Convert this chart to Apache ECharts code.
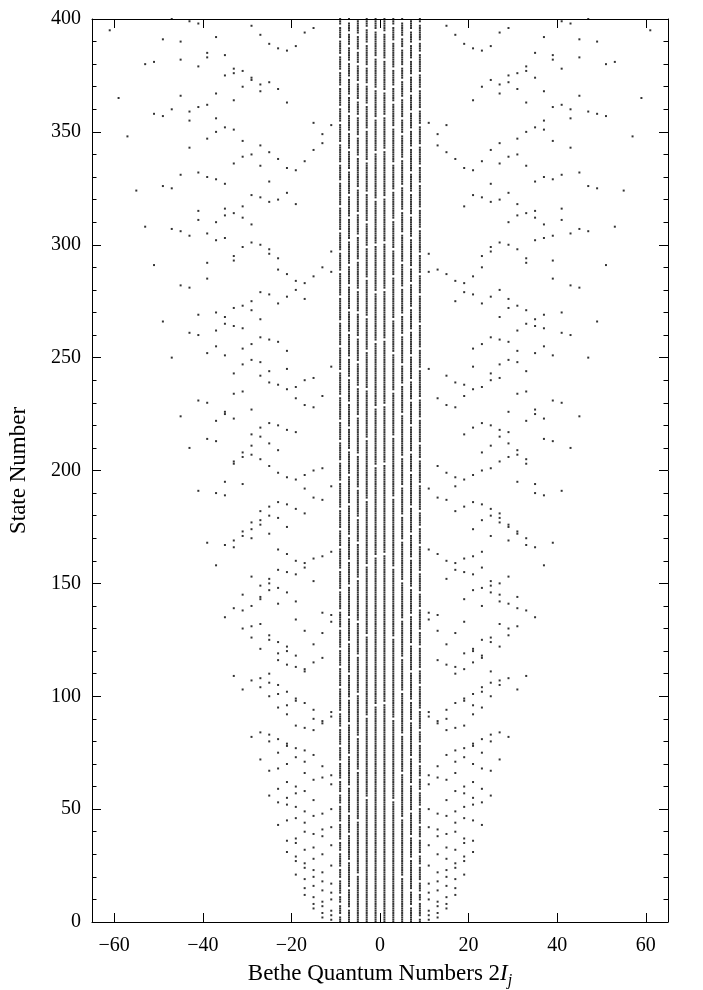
<!DOCTYPE html>
<html><head><meta charset="utf-8">
<script src="https://cdn.jsdelivr.net/npm/echarts@6/dist/echarts.min.js"></script>
<style>html,body{margin:0;padding:0;background:#fff}#c{width:703px;height:990px}</style>
</head><body><div id="c"></div>
<script>
const xTicks = [-60, -40, -20, 0, 20, 40, 60];
const stateRange = [0, 400];
const centerColumns = [-9, -7, -5, -3, -1, 1, 3, 5, 7, 9];
// states where a central column has no point
const centerGaps = {
  "-9": [3, 8, 12, 19, 24, 31, 36, 44, 52, 57, 63, 71, 78, 86, 93, 104, 113, 121, 130, 138, 147, 156, 166, 174, 183, 195, 204, 213, 222, 233, 244, 255, 266, 277, 288, 297, 306, 317, 328, 336, 345, 354, 361, 370, 377, 384, 391, 397],
  "-7": [6, 15, 27, 39, 48, 60, 74, 88, 99, 110, 124, 135, 149, 160, 171, 185, 198, 209, 219, 230, 241, 250, 261, 271, 282, 291, 302, 312, 322, 333, 342, 350, 358, 366, 374, 381, 388, 394, 399],
  "-5": [21, 45, 67, 82, 101, 118, 133, 152, 168, 179, 192, 207, 224, 237, 248, 259, 270, 280, 293, 304, 314, 325, 339, 348, 357, 364, 372, 380, 386, 393, 400],
  "-3": [55, 91, 127, 158, 187, 214, 236, 253, 268, 285, 299, 310, 323, 337, 351, 362, 371, 379, 389, 396],
  "-1": [96, 162, 202, 228, 257, 279, 300, 320, 341, 356, 369, 383, 395],
  "1": [97, 163, 203, 229, 258, 280, 301, 321, 342, 357, 368, 382, 394],
  "3": [54, 90, 126, 157, 188, 215, 235, 252, 267, 286, 298, 311, 324, 336, 352, 363, 370, 378, 390, 397],
  "5": [20, 46, 66, 83, 102, 117, 134, 151, 169, 180, 193, 206, 225, 238, 247, 260, 269, 281, 292, 305, 315, 326, 338, 349, 356, 365, 373, 379, 387, 392, 399],
  "7": [7, 14, 28, 38, 49, 61, 73, 89, 98, 111, 123, 136, 148, 161, 172, 184, 199, 208, 220, 231, 240, 251, 262, 272, 283, 290, 303, 313, 323, 332, 343, 351, 359, 367, 375, 382, 389, 395, 400],
  "9": [2, 9, 13, 18, 25, 30, 37, 43, 51, 58, 64, 70, 79, 85, 94, 105, 112, 122, 129, 139, 146, 155, 167, 175, 182, 194, 205, 212, 223, 232, 245, 254, 265, 278, 287, 296, 307, 316, 327, 335, 344, 353, 360, 369, 376, 385, 390, 398]
};
// outer quantum numbers, [2I_j, state]
const leftOuterTop = [[-47,400],[-43,399],[-41,398],[-61,395],[-29,397],[-27,393],[-15,396],[-17,394],[-49,391],[-45,390],[-37,392],[-25,389],[-23,387],[-21,386],[-19,388],[-39,385],[-39,383],[-35,384],[-45,382],[-53,380],[-51,381],[-41,379],[-33,378],[-33,376],[-31,377],[-35,375],[-29,374],[-29,373],[-27,371],[-25,372],[-23,369],[-27,368],[-31,370],[-37,367],[-45,366],[-59,365],[-33,364],[-21,363],[-39,362],[-41,361],[-47,360],[-51,358],[-49,357],[-43,359],[-43,355],[-37,356],[-15,354],[-11,353],[-13,349],[-13,345],[-15,342],[-17,337],[-35,352],[-33,351],[-37,350],[-39,347],[-57,348],[-31,346],[-27,344],[-25,341],[-23,338],[-21,334],[-19,333],[-29,340],[-31,339],[-33,336],[-27,335],[-43,343],[-45,331],[-41,332],[-39,330],[-37,329],[-35,327],[-55,324],[-49,326],[-47,325],[-25,328],[-29,322],[-27,321],[-25,319],[-23,320],[-21,323],[-19,318],[-41,315],[-41,311],[-35,316],[-35,313],[-33,314],[-31,317],[-31,312],[-37,310],[-29,309],[-53,308],[-47,307],[-45,306],[-43,304],[-39,305],[-37,302],[-35,303],[-29,301],[-27,300]];
const leftOuterUpper = [[-31,299],[-25,298],[-25,296],[-23,294],[-33,295],[-33,293],[-39,292],[-51,291],[-11,297],[-13,290],[-11,288],[-23,289],[-21,287],[-19,284],[-17,283],[-15,286],[-39,285],[-45,282],[-43,281],[-19,280],[-17,276],[-21,277],[-23,274],[-27,279],[-25,278],[-29,275],[-31,273],[-33,272],[-29,271],[-27,267],[-37,270],[-41,269],[-35,268],[-35,265],[-33,264],[-31,263],[-49,266],[-37,262],[-43,261],[-41,260],[-27,259],[-25,258],[-23,257],[-21,253],[-29,256],[-31,254],[-37,255],[-39,252],[-35,251],[-47,250],[-29,249],[-27,248],[-31,247],[-11,246],[-21,245],[-25,244],[-33,243],[-27,242],[-25,239],[-23,238],[-21,236],[-19,237],[-17,240],[-15,241],[-33,234],[-31,235],[-13,233],[-19,232],[-17,229],[-15,228],[-41,231],[-39,230],[-29,227],[-35,226],[-35,225],[-45,224],[-33,223],[-37,222],[-25,221],[-23,220],[-27,219],[-21,218],[-19,217],[-29,216],[-27,215],[-39,214],[-37,213],[-25,212],[-29,211],[-43,210],[-23,209],[-31,208],[-29,207],[-31,206],[-27,205],[-33,204],[-33,203],[-25,202],[-13,201]];
const leftOuterLower = [[-23,199],[-21,197],[-19,196],[-17,198],[-15,200],[-35,195],[-31,194],[-41,191],[-37,190],[-35,189],[-17,192],[-11,193],[-15,188],[-13,187],[-23,186],[-21,185],[-19,183],[-17,181],[-25,184],[-27,182],[-25,180],[-23,179],[-21,175],[-29,177],[-27,178],[-27,176],[-29,174],[-31,173],[-31,171],[-29,170],[-25,172],[-33,169],[-33,166],[-35,167],[-39,168],[-37,158],[-23,165],[-21,163],[-19,160],[-17,159],[-17,157],[-15,161],[-13,162],[-11,164],[-23,156],[-21,155],[-19,154],[-15,151],[-29,153],[-25,152],[-25,150],[-27,149],[-25,147],[-23,148],[-21,146],[-31,145],[-27,144],[-27,143],[-23,141],[-19,142],[-33,139],[-31,138],[-29,140],[-35,135],[-13,137],[-11,136],[-11,133],[-19,134],[-27,132],[-29,131],[-31,130],[-17,129],[-13,128],[-29,126],[-25,127],[-25,125],[-23,124],[-21,122],[-27,121],[-21,120],[-23,119],[-15,123],[-19,118],[-23,116],[-21,114],[-19,113],[-17,112],[-17,111],[-15,115],[-13,117],[-33,109],[-25,110],[-27,108],[-29,107],[-25,106],[-27,104],[-23,105],[-31,103],[-23,101],[-21,102]];
const leftOuterBottom = [[-25,100],[-19,99],[-19,98],[-17,97],[-23,95],[-21,96],[-21,92],[-15,94],[-11,93],[-11,91],[-15,90],[-13,89],[-13,88],[-19,87],[-17,86],[-15,85],[-29,82],[-27,84],[-25,83],[-25,80],[-23,81],[-21,79],[-21,78],[-19,77],[-17,76],[-15,74],[-23,75],[-19,73],[-17,71],[-27,72],[-21,70],[-13,69],[-25,67],[-23,68],[-17,66],[-11,65],[-13,64],[-15,63],[-11,61],[-21,62],[-19,60],[-23,59],[-17,58],[-19,57],[-25,56],[-21,55],[-15,54],[-23,53],[-21,52],[-19,51],[-11,50],[-17,49],[-13,48],[-15,47],[-19,46],[-21,45],[-17,44],[-23,43],[-11,42],[-13,41],[-17,40],[-15,39],[-13,38],[-19,37],[-21,36],[-19,35],[-11,34],[-17,32],[-15,33],[-21,31],[-13,30],[-19,29],[-15,28],[-19,27],[-17,26],[-11,25],[-17,24],[-15,23],[-13,22],[-19,21],[-15,20],[-17,19],[-13,18],[-11,17],[-15,16],[-17,15],[-13,14],[-11,13],[-17,12],[-15,11],[-11,10],[-13,9],[-15,8],[-13,7],[-15,6],[-11,5],[-13,4],[-11,3],[-13,2],[-11,1]];
const rightOuterTop = [[47,400],[41,399],[43,398],[15,397],[29,396],[61,395],[27,394],[17,393],[37,392],[45,391],[49,390],[19,389],[25,388],[21,387],[23,386],[35,385],[39,384],[45,383],[39,382],[53,381],[51,380],[33,379],[41,378],[33,377],[31,376],[29,375],[35,374],[25,373],[29,372],[27,371],[23,370],[31,369],[37,368],[27,367],[45,366],[59,365],[21,364],[33,363],[41,362],[39,361],[43,360],[47,359],[49,358],[51,357],[43,356],[37,355],[11,354],[15,353],[35,352],[37,351],[33,350],[13,349],[57,348],[31,347],[39,346],[27,345],[13,344],[43,343],[25,342],[15,341],[31,340],[29,339],[17,338],[23,337],[27,336],[33,335],[19,334],[21,333],[45,332],[41,331],[37,330],[39,329],[35,328],[25,327],[47,326],[49,325],[55,324],[29,323],[21,322],[23,321],[27,320],[25,319],[31,318],[19,317],[41,316],[35,315],[33,314],[31,313],[35,312],[41,311],[29,310],[37,309],[53,308],[45,307],[47,306],[43,305],[39,304],[37,303],[35,302],[27,301],[29,300]];
const rightOuterUpper = [[25,299],[31,298],[25,297],[11,296],[23,295],[33,294],[39,293],[33,292],[51,291],[23,290],[13,289],[11,288],[15,287],[21,286],[39,285],[17,284],[19,283],[43,282],[45,281],[27,280],[19,279],[21,278],[25,277],[29,276],[17,275],[23,274],[31,273],[29,272],[33,271],[41,270],[37,269],[27,268],[35,267],[49,266],[33,265],[35,264],[37,263],[31,262],[41,261],[43,260],[25,259],[27,258],[29,257],[23,256],[37,255],[21,254],[31,253],[35,252],[39,251],[47,250],[29,249],[31,248],[27,247],[21,246],[11,245],[33,244],[25,243],[15,242],[27,241],[25,240],[17,239],[19,238],[23,237],[21,236],[33,235],[31,234],[19,233],[13,232],[39,231],[41,230],[15,229],[17,228],[35,227],[29,226],[35,225],[45,224],[37,223],[33,222],[23,221],[25,220],[21,219],[27,218],[29,217],[19,216],[27,215],[37,214],[39,213],[29,212],[25,211],[43,210],[31,209],[23,208],[31,207],[29,206],[33,205],[27,204],[33,203],[13,202],[25,201]];
const rightOuterLower = [[23,200],[15,199],[21,198],[17,197],[19,196],[31,195],[35,194],[17,193],[11,192],[41,191],[35,190],[37,189],[13,188],[15,187],[21,186],[23,185],[19,184],[25,183],[17,182],[27,181],[25,180],[27,179],[23,178],[27,177],[29,176],[29,175],[21,174],[31,173],[31,172],[25,171],[33,170],[29,169],[39,168],[33,167],[35,166],[11,165],[23,164],[13,163],[21,162],[19,161],[15,160],[17,159],[37,158],[23,157],[17,156],[19,155],[21,154],[29,153],[15,152],[25,151],[27,150],[25,149],[23,148],[21,147],[25,146],[27,145],[31,144],[19,143],[27,142],[29,141],[23,140],[31,139],[33,138],[11,137],[13,136],[35,135],[11,134],[19,133],[27,132],[31,131],[29,130],[13,129],[17,128],[29,127],[25,126],[23,125],[25,124],[15,123],[27,122],[21,121],[21,120],[19,119],[23,118],[23,117],[13,116],[21,115],[15,114],[17,113],[19,112],[25,111],[17,110],[33,109],[29,108],[27,107],[25,106],[27,105],[23,104],[31,103],[23,102],[21,101]];
const rightOuterBottom = [[25,100],[19,99],[19,98],[17,97],[21,96],[23,95],[15,94],[11,93],[21,92],[11,91],[15,90],[13,89],[13,88],[19,87],[17,86],[15,85],[27,84],[25,83],[29,82],[23,81],[25,80],[21,79],[21,78],[19,77],[17,76],[23,75],[15,74],[19,73],[27,72],[17,71],[21,70],[13,69],[23,68],[25,67],[17,66],[11,65],[13,64],[15,63],[21,62],[11,61],[19,60],[23,59],[17,58],[19,57],[25,56],[21,55],[15,54],[23,53],[21,52],[19,51],[11,50],[17,49],[13,48],[15,47],[19,46],[21,45],[17,44],[23,43],[11,42],[13,41],[17,40],[15,39],[13,38],[19,37],[21,36],[19,35],[11,34],[15,33],[17,32],[21,31],[13,30],[19,29],[15,28],[19,27],[17,26],[11,25],[17,24],[15,23],[13,22],[19,21],[15,20],[17,19],[13,18],[11,17],[15,16],[17,15],[13,14],[11,13],[17,12],[15,11],[11,10],[13,9],[15,8],[13,7],[15,6],[11,5],[13,4],[11,3],[13,2],[11,1]];

const points = [];
centerColumns.forEach(function (c) {
  const gaps = new Set(centerGaps[String(c)]);
  for (let s = stateRange[0]; s <= stateRange[1]; s++) {
    if (!gaps.has(s)) points.push([c, s]);
  }
});
[leftOuterTop, leftOuterUpper, leftOuterLower, leftOuterBottom,
 rightOuterTop, rightOuterUpper, rightOuterLower, rightOuterBottom].forEach(function (a) {
  a.forEach(function (p) { points.push(p); });
});

const FONT = 'Liberation Serif';
const fmt = function (v) { return String(v).replace('-', '\u2212'); };
const lineStyle = { color: '#000', width: 1 };
const chart = echarts.init(document.getElementById('c'), null, { renderer: 'canvas' });
chart.setOption({
  animation: false,
  backgroundColor: '#fff',
  grid: { left: 92, right: 35, top: 19, bottom: 68, containLabel: false, outerBoundsMode: 'none' },
  xAxis: [{
    type: 'value', min: -65, max: 65, position: 'bottom',
    axisLine: { show: true, onZero: false, lineStyle: lineStyle },
    axisTick: { show: true, inside: true, length: 9, customValues: xTicks, lineStyle: lineStyle },
    axisLabel: { customValues: xTicks, formatter: fmt, color: '#000', fontFamily: FONT, fontSize: 20, margin: 14 },
    splitLine: { show: false },
    name: '{t|Bethe Quantum Numbers 2}{i|I}{s|j}',
    nameLocation: 'middle', nameGap: 37,
    nameTextStyle: {
      color: '#000',
      rich: {
        t: { fontFamily: FONT, fontSize: 23, color: '#000', lineHeight: 30, verticalAlign: 'middle' },
        i: { fontFamily: FONT, fontSize: 23, fontStyle: 'italic', color: '#000', lineHeight: 30, verticalAlign: 'middle' },
        s: { fontFamily: FONT, fontSize: 16, fontStyle: 'italic', color: '#000', lineHeight: 16, verticalAlign: 'bottom' }
      }
    }
  }, {
    type: 'value', min: -65, max: 65, position: 'top',
    axisLine: { show: true, onZero: false, lineStyle: lineStyle },
    axisTick: { show: true, inside: true, length: 9, customValues: xTicks, lineStyle: lineStyle },
    axisLabel: { show: false },
    splitLine: { show: false }
  }],
  yAxis: [{
    type: 'value', min: 0, max: 400, interval: 50, position: 'left',
    axisLine: { show: true, onZero: false, lineStyle: lineStyle },
    axisTick: { show: true, inside: true, length: 9, lineStyle: lineStyle },
    minorTick: { show: true, splitNumber: 5, length: 4.5, lineStyle: lineStyle },
    axisLabel: { color: '#000', fontFamily: FONT, fontSize: 20, margin: 11 },
    splitLine: { show: false },
    name: 'State Number', nameLocation: 'middle', nameGap: 62,
    nameTextStyle: { color: '#000', fontFamily: FONT, fontSize: 23 }
  }, {
    type: 'value', min: 0, max: 400, interval: 50, position: 'right',
    axisLine: { show: true, onZero: false, lineStyle: lineStyle },
    axisTick: { show: true, inside: true, length: 9, lineStyle: lineStyle },
    minorTick: { show: true, splitNumber: 5, length: 4.5, lineStyle: lineStyle },
    axisLabel: { show: false },
    splitLine: { show: false }
  }],
  series: [{
    type: 'scatter', xAxisIndex: 0, yAxisIndex: 0,
    symbol: 'rect', symbolSize: 2, silent: true,
    itemStyle: { color: '#000' },
    data: points
  }]
});
</script></body></html>
